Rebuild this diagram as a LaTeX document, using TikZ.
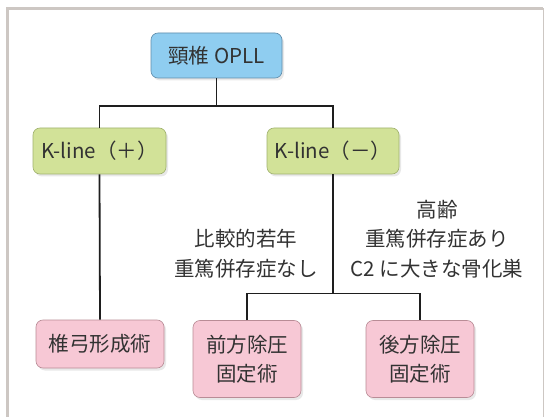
\documentclass[tikz,border=0pt]{standalone}
\usepackage{fontspec}
\setmainfont{Noto Sans CJK JP}
\usetikzlibrary{shadows}
\definecolor{bluefill}{RGB}{143,205,240}
\definecolor{blueline}{RGB}{95,140,170}
\definecolor{greenfill}{RGB}{210,226,152}
\definecolor{greenline}{RGB}{160,178,110}
\definecolor{pinkfill}{RGB}{247,200,213}
\definecolor{pinkline}{RGB}{185,140,150}
\definecolor{framegray}{RGB}{205,199,195}
\definecolor{txt}{RGB}{50,50,50}
\definecolor{linecol}{RGB}{30,30,30}
\tikzset{
  box/.style={draw, rounded corners=7pt, line width=0.6pt, inner sep=0pt, text=txt,
    font=\fontsize{20.5}{29.5}\selectfont, align=center,
    drop shadow={opacity=0.18, shadow xshift=2pt, shadow yshift=-2.5pt}},
  bluebox/.style={box, fill=bluefill, draw=blueline},
  greenbox/.style={box, fill=greenfill, draw=greenline},
  pinkbox/.style={box, fill=pinkfill, draw=pinkline},
  conn/.style={draw=linecol, line width=1.8pt},
  lbl/.style={text=txt, font=\fontsize{20.5}{29.5}\selectfont, align=center, inner sep=0pt}
}
\begin{document}
\begin{tikzpicture}[x=1pt,y=-1pt]
\useasboundingbox (0,0) rectangle (544,417);
\fill[white] (0,0) rectangle (544,417);
% frame
\draw[framegray, line width=3pt] (7.5,430) -- (7.5,8.5) -- (543,8.5);
\draw[framegray, line width=1pt] (543,8.5) -- (543,430);

\node[bluebox, minimum width=131pt, minimum height=45pt] (top) at (216.5,55.5) {頸椎 OPLL};
\node[greenbox, minimum width=133pt, minimum height=46pt] (kp) at (99.5,151) {K-line（＋）};
\node[greenbox, minimum width=132pt, minimum height=46pt] (km) at (333,151) {K-line（－）};
\node[pinkbox, minimum width=128pt, minimum height=48pt] (lam) at (100,344) {椎弓形成術};
\node[pinkbox, minimum width=108pt, minimum height=77pt] (ant) at (247,359) {前方除圧\\固定術};
\node[pinkbox, minimum width=108pt, minimum height=77pt] (post) at (420,359) {後方除圧\\固定術};

\node[lbl] (young) at (246,254) {比較的若年\\重篤併存症なし};
\node[lbl] (old) at (437,239) {高齢\\重篤併存症あり\\C2 に大きな骨化巣};

\coordinate (j1) at (216.5,106);
\coordinate (j2) at (333,293.5);
\draw[conn] (top.south) -- (j1);
\draw[conn] (kp.north) |- (j1) -| (km.north);
\draw[conn] (kp.south) -- (lam.north);
\draw[conn] (km.south) -- (j2);
\draw[conn] (ant.north) |- (j2) -| (post.north);
\end{tikzpicture}
\end{document}
